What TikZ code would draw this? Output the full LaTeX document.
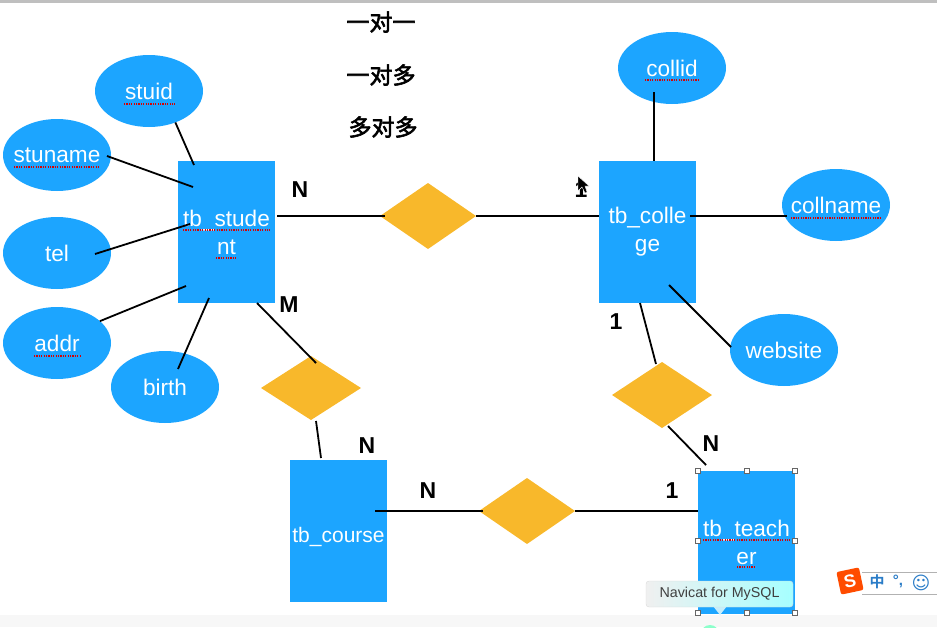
\documentclass[tikz,border=0pt]{standalone}
\usepackage{fontspec}
\setmainfont{Liberation Sans}
\newfontfamily\cjk{Noto Sans CJK SC}[BoldFont={* Bold}]
\newfontfamily\cjkfake{Noto Sans CJK SC}[FakeBold=2.5]
\newfontfamily\dejavu{DejaVu Sans}
\usetikzlibrary{shapes.geometric}
\definecolor{boxblue}{HTML}{1CA5FF}
\definecolor{relorange}{HTML}{F8B82B}
\definecolor{imeblue}{HTML}{2A7CC7}
\newcommand{\attrtext}[1]{\makebox[0pt]{\raisebox{-2pt}{#1}}}
\tikzset{
  entity/.style={fill=boxblue, text=white, minimum width=97pt, minimum height=142pt, align=center, font=\fontsize{22.6}{28}\selectfont, execute at begin node=\rule{0pt}{27pt}},
  attr/.style={ellipse, fill=boxblue, text=white, minimum width=108pt, minimum height=72pt, font=\fontsize{22.6}{27}\selectfont},
  relation/.style={diamond, fill=relorange, minimum width=98pt, minimum height=66pt},
  conn/.style={line width=1.8pt, black},
  card/.style={font=\fontsize{23}{27}\selectfont\bfseries},
  legend/.style={font=\fontsize{23}{27}\selectfont\cjkfake},
  squiggle/.style={red!85!black, line width=1.2pt, dash pattern=on 1.2pt off 1.2pt},
  handle/.style={draw=black!60, fill=white, line width=0.5pt, minimum size=5pt}
}
\begin{document}
\begin{tikzpicture}[x=1pt, y=-1pt, every node/.style={inner sep=0pt, outer sep=0pt}]
\useasboundingbox (0,0) rectangle (937,627);
\fill[black!3] (0,615) rectangle (937,627);
\fill[black!25] (0,0) rectangle (937,2.5);

% legend
\node[legend] (one) at (381,22) {一对一};
\node[legend] (onemany) at (381,75) {一对多};
\node[legend] (manymany) at (383,127) {多对多};

% entities
\node[entity] (student) at (226.5,232) {tb\_stude\\nt};
\node[entity] (college) at (647.5,232) {tb\_colle\\ge};
\node[entity, font=\fontsize{21}{28}\selectfont] (course) at (338.5,531) {tb\_course};
\node[entity, minimum height=143pt] (teacher) at (746.5,542.5) {tb\_teach\\er};

% attributes
\node[attr] (stuid) at (149,91) {\attrtext{stuid}};
\node[attr] (stuname) at (57,155) {\attrtext{stuname}};
\node[attr] (tel) at (57,253) {\attrtext{tel}};
\node[attr] (addr) at (57,343) {\attrtext{addr}};
\node[attr] (birth) at (165,387) {\attrtext{birth}};
\node[attr] (collid) at (672,68) {\attrtext{collid}};
\node[attr] (collname) at (836,205) {\attrtext{collname}};
\node[attr] (website) at (784,350) {\attrtext{website}};

% relations
\node[relation, minimum width=96pt] (relA) at (428,216) {};
\node[relation, minimum height=64pt, minimum width=100pt] (relB) at (311,388) {};
\node[relation, minimum width=96pt] (relC) at (527,511) {};
\node[relation, minimum width=100pt] (relD) at (662,395) {};

% connectors
\draw[conn] (stuid.-50) -- ([shift={(16,4)}]student.north west);
\draw[conn] ([shift={(-4,1)}]stuname.east) -- ([shift={(15,26)}]student.north west);
\draw[conn] ([shift={(-16,1)}]tel.east) -- ([shift={(12,63)}]student.north west);
\draw[conn] (addr.27) -- ([shift={(8,-17)}]student.south west);
\draw[conn] ([shift={(13,18)}]birth.north) -- ([shift={(-17.5,-5)}]student.south);
\draw[conn] ([shift={(2,-16)}]student.east) -- ([shift={(5,0)}]relA.west);
\draw[conn] (relA.east) -- ([shift={(0,-16)}]college.west);
\draw[conn] ([shift={(-18,-12)}]collid.south) -- ([shift={(6.5,0)}]college.north);
\draw[conn] ([shift={(-6,-16)}]college.east) -- ([shift={(5,11)}]collname.west);
\draw[conn] ([shift={(21.5,-18)}]college.south) -- ([shift={(1,-3)}]website.west);
\draw[conn] ([shift={(-7.5,0)}]college.south) -- ([shift={(-6,2)}]relD.north);
\draw[conn] ([shift={(6,-2)}]relD.south) -- ([shift={(-40.5,-6)}]teacher.north);
\draw[conn] ([shift={(30.5,0)}]student.south) -- ([shift={(5,7)}]relB.north);
\draw[conn] ([shift={(5,1)}]relB.south) -- ([shift={(-17.5,-2)}]course.north);
\draw[conn] ([shift={(-12,-20)}]course.east) -- ([shift={(4,0)}]relC.west);
\draw[conn] (relC.east) -- ([shift={(0,-31.5)}]teacher.west);

% cardinalities
\node[card] (cardA) at (300,190) {N};
\node[card] (cardB) at (289,305) {M};
\node[card] (cardC) at (367,446) {N};
\node[card] (cardD) at (428,491) {N};
\node[card] (cardE) at (672,491) {1};
\node[card] (cardF) at (581,190) {1};
\node[card] (cardG) at (616,322) {1};
\node[card] (cardH) at (711,444) {N};

% spell check marks
\foreach \xa/\xb/\yy in {124/175/104, 14/100/167, 183/270/230, 216/236/258, 34/81/356, 645/699/80, 791/881/218, 703/790/540, 737/755/567}
  \draw[squiggle] (\xa,\yy) -- (\xb,\yy);

% cursor
\fill[black, draw=white, line width=0.4pt] (578,176) -- (578,191) -- (582,187) -- (585,193) -- (587,192) -- (585,186) -- (589,186) -- cycle;

% selection handles
\foreach \hname/\hx/\hy in {ha/698/471, hb/746.5/471, hc/795/471, hd/698/541, he/795/541, hf/698/613, hg/746.5/613, hh/795/613}
  \node[handle] (\hname) at (\hx,\hy) {};

% tooltip and input method
\fill[green!45!cyan!45] (710,634) circle (9);
\fill[cyan!22] (720,615) -- (713,606) -- (727,606) -- cycle;
\node[draw=black!15, rounded corners=3pt, left color=black!6, right color=cyan!35, minimum width=147pt, minimum height=26pt, text=black!75, font=\fontsize{14.3}{16}\selectfont] (tip) at (719.5,594) {Navicat for MySQL};
\draw[black!30] (862,572) -- (937,572) (862,594) -- (937,594);
\node[fill=orange!60!red, text=white, rotate=12, rounded corners=2pt, minimum size=23pt, font=\fontsize{18}{18}\selectfont\bfseries] (logo) at (850,581) {S};
\node[text=imeblue, font=\fontsize{15}{15}\selectfont\cjk\bfseries] (zh) at (877,582) {中};
\node[text=imeblue, font=\fontsize{15}{15}\selectfont\bfseries] (punct) at (898,581) {°,};
\node[text=imeblue, font=\fontsize{18}{18}\selectfont\dejavu] (smile) at (921,583) {☺};
\end{tikzpicture}
\end{document}
